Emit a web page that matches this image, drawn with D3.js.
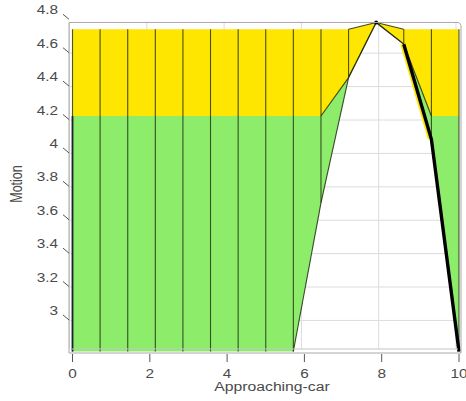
<!DOCTYPE html>
<html>
<head>
<meta charset="utf-8">
<script src="https://cdn.jsdelivr.net/npm/d3@7/dist/d3.min.js"></script>
<style>
  html, body { margin: 0; padding: 0; background: #fff; }
  svg { display: block; }
  text { font-family: "Liberation Sans", Arial, sans-serif; fill: #4a4a4a; }
</style>
</head>
<body>
<svg id="chart" width="466" height="401"></svg>
<script>
// Approaching-car (x) against Motion (y): three stacked layers per sample
const xValues   = [0, 0.714, 1.429, 2.143, 2.857, 3.571, 4.286, 5, 5.714, 6.429, 7.143, 7.857, 8.571, 9.286, 10];
const lowerEdge = [2.79, 2.79, 2.79, 2.79, 2.79, 2.79, 2.79, 2.79, 2.79, 3.68, 4.43, 4.76, 4.63, 4.06, 2.79];
const greenTop  = [4.2, 4.2, 4.2, 4.2, 4.2, 4.2, 4.2, 4.2, 4.2, 4.2, 4.43, 4.76, 4.63, 4.2, 4.2];
const yellowTop = [4.72, 4.72, 4.72, 4.72, 4.72, 4.72, 4.72, 4.72, 4.72, 4.72, 4.72, 4.76, 4.72, 4.72, 4.72];

const xTicks = [0, 2, 4, 6, 8, 10];
const yTicks = [3, 3.2, 3.4, 3.6, 3.8, 4, 4.2, 4.4, 4.6, 4.8];
const xTitle = "Approaching-car";
const yTitle = "Motion";

const svg = d3.select("#chart");
const x = d3.scaleLinear().domain([0, 10]).range([72.5, 459]);
const y = d3.scaleLinear().domain([2.79, 4.8]).range([351.5, 15.8]);

const rows = xValues.map((v, i) => ({ x: v, b: lowerEdge[i], g: greenTop[i], t: yellowTop[i] }));

const boxLeft = 69, boxRight = 460;
const boxTop = y(d3.max(yellowTop)), boxBottom = 353;
const stretch = 1.28;

// back-wall grid, offset slightly for depth
const grid = svg.append("g").attr("transform", "translate(-3,4)");
grid.selectAll("line.h").data(yTicks.filter(v => y(v) + 4 > boxTop + 2)).join("line")
  .attr("x1", boxLeft + 3).attr("x2", boxRight)
  .attr("y1", d => y(d)).attr("y2", d => y(d))
  .attr("stroke", "#dcdcdc").attr("stroke-width", 1);
grid.selectAll("line.v").data(xTicks).join("line")
  .attr("x1", d => x(d)).attr("x2", d => x(d))
  .attr("y1", boxTop - 4).attr("y2", boxBottom - 8)
  .attr("stroke", "#dcdcdc").attr("stroke-width", 1);

// filled layers
const greenArea = d3.area().x(d => x(d.x)).y0(d => y(d.b)).y1(d => y(d.g));
const yellowArea = d3.area().x(d => x(d.x)).y0(d => y(d.g)).y1(d => y(d.t));
svg.append("path").datum(rows).attr("d", greenArea).attr("fill", "#8ded6a");
svg.append("path").datum(rows).attr("d", yellowArea).attr("fill", "#ffe600");

// mesh: vertical edges at each sample
svg.selectAll("line.mesh").data(rows.filter(d => d.t > d.b)).join("line")
  .attr("x1", d => x(d.x)).attr("x2", d => x(d.x))
  .attr("y1", d => y(d.t)).attr("y2", d => y(d.b))
  .attr("stroke", "#1e2a10").attr("stroke-opacity", 0.8).attr("stroke-width", 1.1);

// sloped edges of each layer
const edgeSegs = [];
["b", "g", "t"].forEach(k => {
  for (let i = 0; i < rows.length - 1; i++) {
    if (rows[i][k] !== rows[i + 1][k]) edgeSegs.push({ a: rows[i], c: rows[i + 1], k });
  }
});
svg.selectAll("line.edge").data(edgeSegs).join("line")
  .attr("x1", d => x(d.a.x)).attr("y1", d => y(d.a[d.k]))
  .attr("x2", d => x(d.c.x)).attr("y2", d => y(d.c[d.k]))
  .attr("stroke", "#1e2a10").attr("stroke-opacity", 0.85).attr("stroke-width", 1.1);

// heavy outline along the falling side, with a thin yellow rim on its left
const falling = rows.slice(12);
const fallLine = d3.line().x(d => x(d.x)).y(d => y(d.b));
svg.append("path").datum(falling.slice(0, 2))
  .attr("d", fallLine).attr("transform", "translate(-2.5,0)")
  .attr("fill", "none").attr("stroke", "#ffe600").attr("stroke-width", 2);
svg.append("path").datum(falling)
  .attr("d", fallLine)
  .attr("fill", "none").attr("stroke", "#000").attr("stroke-width", 3.4).attr("stroke-linejoin", "round");
svg.append("line")
  .attr("x1", x(rows[0].x)).attr("x2", x(rows[0].x))
  .attr("y1", y(rows[0].g)).attr("y2", y(rows[0].b))
  .attr("stroke", "#1a2233").attr("stroke-width", 1.8);

// peak marker
const peak = rows[d3.maxIndex(rows, d => d.t)];
svg.append("circle").attr("cx", x(peak.x)).attr("cy", y(peak.t)).attr("r", 2).attr("fill", "#000");

// box
const box = svg.append("g").attr("stroke", "#a8a8a8").attr("fill", "none").attr("stroke-width", 1);
box.append("line").attr("x1", boxLeft).attr("x2", boxRight - 2).attr("y1", boxTop).attr("y2", boxTop);
box.append("path").attr("d", `M${boxRight - 2},${boxTop} Q${boxRight},${boxTop} ${boxRight + 1},${boxTop + 3} L${boxRight + 1},${boxBottom}`);
box.append("line").attr("x1", boxLeft).attr("x2", boxLeft).attr("y1", boxTop).attr("y2", boxBottom);
box.append("line").attr("x1", boxLeft).attr("x2", boxRight + 1).attr("y1", boxBottom).attr("y2", boxBottom);
box.append("line").attr("x1", boxLeft + 3).attr("x2", boxRight - 2).attr("y1", boxBottom - 4).attr("y2", boxBottom - 4).attr("stroke", "#c4c4c4");

// y axis: slanted ticks and labels
const yAxis = svg.append("g");
yAxis.selectAll("line").data(yTicks).join("line")
  .attr("x1", 63).attr("y1", d => y(d) - 1.5)
  .attr("x2", 69).attr("y2", d => y(d) + 3.5)
  .attr("stroke", "#555").attr("stroke-width", 1);
yAxis.selectAll("text").data(yTicks).join("text")
  .attr("transform", d => `translate(58,${y(d) - 1.5}) scale(${stretch},1)`)
  .attr("text-anchor", "end").attr("font-size", 12)
  .text(d => d3.format("")(d));

// x axis: ticks and labels
const xAxis = svg.append("g");
xAxis.selectAll("line").data(xTicks).join("line")
  .attr("x1", d => x(d)).attr("x2", d => x(d))
  .attr("y1", boxBottom + 1).attr("y2", boxBottom + 9)
  .attr("stroke", "#555").attr("stroke-width", 1);
xAxis.selectAll("text").data(xTicks).join("text")
  .attr("transform", d => `translate(${x(d)},377.5) scale(${stretch},1)`)
  .attr("text-anchor", "middle").attr("font-size", 12)
  .text(d => d);

// axis titles
svg.append("text")
  .attr("transform", `translate(272,390.5) scale(${stretch},1)`)
  .attr("text-anchor", "middle").attr("font-size", 12.3)
  .text(xTitle);
svg.append("text")
  .attr("transform", `translate(21.5,184) rotate(-90) scale(1,${stretch})`)
  .attr("text-anchor", "middle").attr("font-size", 12.5)
  .text(yTitle);
</script>
</body>
</html>
